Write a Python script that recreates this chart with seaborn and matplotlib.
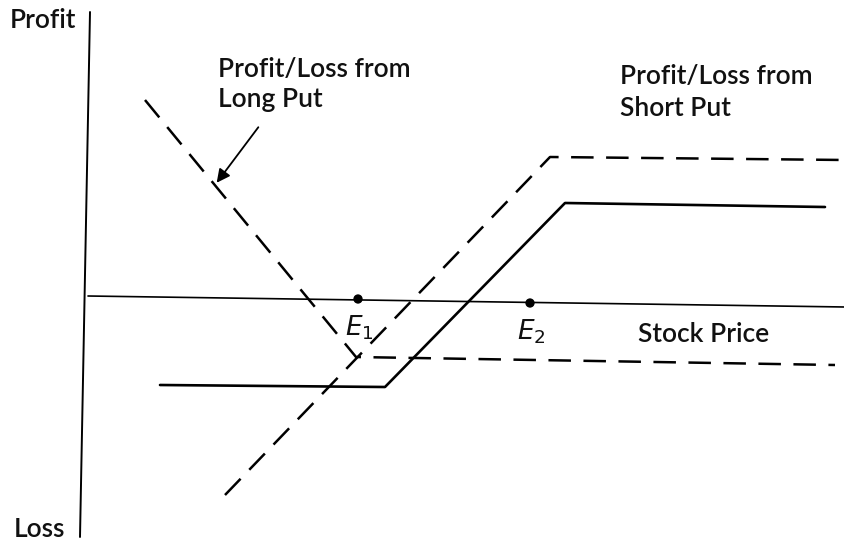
import matplotlib
matplotlib.use("Agg")
import matplotlib.pyplot as plt
import seaborn as sns

sns.set_theme(style="white")
plt.rcParams['font.family'] = ['Lato', 'DejaVu Sans']

# ---------------------------------
# Data (diagram units; y grows downward)
# ---------------------------------
profit_axis_x = [90, 80]
profit_axis_y = [12, 537]

price_axis_x = [88, 845]
price_axis_y = [296, 307]

long_put_x = [145, 356, 835]
long_put_y = [100, 357, 365]

short_put_x = [225, 550, 845]
short_put_y = [495, 157, 160]

spread_x = [160, 385, 565, 825]
spread_y = [385, 387, 203, 207]

breakeven_x = [358, 530]
breakeven_y = [299, 303]
breakeven_labels = ['$E_1$', '$E_2$']

# text, x, baseline y
labels = [
    ('Profit', 10, 28),
    ('Loss', 14, 537),
    ('Profit/Loss from', 218, 77),
    ('Long Put', 218, 107),
    ('Profit/Loss from', 620, 84),
    ('Short Put', 620, 116),
    ('Stock Price', 638, 342),
]

# ---------------------------------
# Plot
# ---------------------------------
fig = plt.figure(figsize=(8.45, 5.42), dpi=100)
ax = fig.add_axes([0, 0, 1, 1])
ax.set_xlim(0, 845)
ax.set_ylim(542, 0)
ax.axis('off')

dash = (0, (9, 5))

# Axes of the diagram
sns.lineplot(x=profit_axis_x, y=profit_axis_y, sort=False, estimator=None,
             color='black', lw=1.4, ax=ax)
sns.lineplot(x=price_axis_x, y=price_axis_y, sort=False, estimator=None,
             color='black', lw=1.2, ax=ax)

# Payoff lines
sns.lineplot(x=long_put_x, y=long_put_y, sort=False, estimator=None,
             color='black', lw=1.8, linestyle=dash, ax=ax)
sns.lineplot(x=short_put_x, y=short_put_y, sort=False, estimator=None,
             color='black', lw=1.8, linestyle=dash, ax=ax)
sns.lineplot(x=spread_x, y=spread_y, sort=False, estimator=None,
             color='black', lw=1.9, ax=ax)

# Break-even points
sns.scatterplot(x=breakeven_x, y=breakeven_y, color='black', s=45,
                edgecolor='none', ax=ax, zorder=5)
for bx, by, lab in zip(breakeven_x, breakeven_y, breakeven_labels):
    ax.text(bx - 13, by + 15, lab, fontsize=19, va='top', ha='left',
            color='#111111', fontfamily='DejaVu Sans',
            math_fontfamily='dejavusans')

# Texts
for txt, tx, ty in labels:
    ax.text(tx, ty, txt, fontsize=19, va='baseline', ha='left',
            fontweight='semibold', color='#111111')

# Arrow to the long put line
ax.annotate('', xy=(215, 185), xytext=(260, 125),
            arrowprops=dict(arrowstyle='-|>', color='black', lw=1.3,
                            mutation_scale=20))

fig.savefig('out.png', dpi=100)
